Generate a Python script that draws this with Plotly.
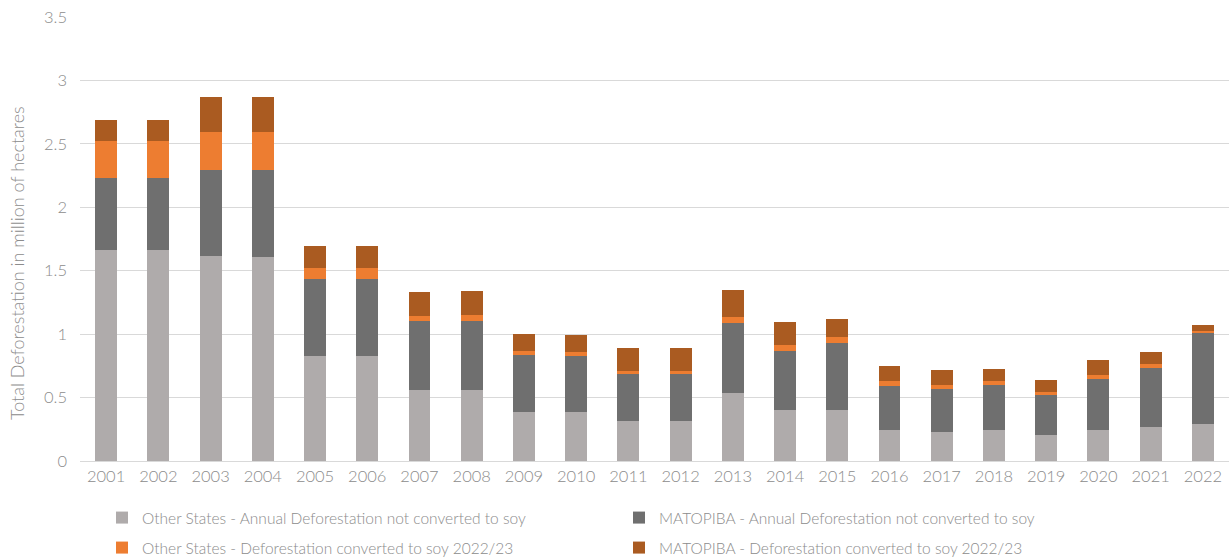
import plotly.graph_objects as go

years = [str(y) for y in range(2001, 2023)]

other_annual = [1.664, 1.664, 1.617, 1.609, 0.828, 0.828, 0.560, 0.560, 0.386, 0.386, 0.315,
                0.315, 0.536, 0.402, 0.402, 0.244, 0.229, 0.244, 0.205, 0.244, 0.268, 0.292]
matopiba_annual = [0.568, 0.568, 0.678, 0.686, 0.607, 0.607, 0.544, 0.544, 0.450, 0.442, 0.371,
                   0.371, 0.552, 0.465, 0.529, 0.347, 0.339, 0.355, 0.315, 0.403, 0.465, 0.717]
other_soy = [0.292, 0.292, 0.300, 0.300, 0.087, 0.087, 0.039, 0.047, 0.031, 0.032, 0.024,
             0.024, 0.048, 0.048, 0.047, 0.040, 0.031, 0.032, 0.024, 0.031, 0.032, 0.016]
matopiba_soy = [0.165, 0.165, 0.276, 0.276, 0.174, 0.174, 0.190, 0.190, 0.133, 0.134, 0.181,
                0.181, 0.213, 0.181, 0.142, 0.118, 0.118, 0.094, 0.094, 0.118, 0.095, 0.047]

names = [
    "Other States - Annual Deforestation not converted to soy",
    "MATOPIBA - Annual Deforestation not converted to soy",
    "Other States - Deforestation converted to soy 2022/23",
    "MATOPIBA - Deforestation converted to soy 2022/23",
]
colors = ["#AFABAB", "#6F6F6F", "#ED7D31", "#AA5B21"]
series = [other_annual, matopiba_annual, other_soy, matopiba_soy]
legend_ids = ["legend", "legend", "legend2", "legend2"]

FONT = "Lato, 'Noto Sans', sans-serif"
TXT = "#8C8C8C"

fig = go.Figure()
for n, c, s, lg in zip(names, colors, series, legend_ids):
    fig.add_trace(go.Bar(x=years, y=s, name=n, legend=lg,
                         marker=dict(color=c, line=dict(width=0))))

PW = 1149.0  # plot width in px
def px_x(p):
    return (p - 80) / PW

PH = 444.0  # plot height in px (17..461)
def px_y(p):
    return (461 - p) / PH

leg_common = dict(
    orientation="h", xanchor="left", yanchor="middle",
    entrywidth=472, entrywidthmode="pixels",
    font=dict(size=15.5, color=TXT, family=FONT, weight=300),
    traceorder="normal", bgcolor="rgba(0,0,0,0)",
)

fig.update_layout(
    barmode="stack",
    bargap=0.58,
    width=1229, height=558,
    margin=dict(l=80, r=0, t=17, b=97, autoexpand=False),
    plot_bgcolor="white", paper_bgcolor="white",
    font=dict(family=FONT, color=TXT, size=16, weight=300),
    showlegend=True,
    legend=dict(x=px_x(102), y=px_y(518), **leg_common),
    legend2=dict(x=px_x(102), y=px_y(548), **leg_common),
    xaxis=dict(
        showgrid=False, showline=True, linecolor="#D9D9D9", linewidth=1,
        ticks="", tickfont=dict(size=16.5, color=TXT),
    ),
    yaxis=dict(
        range=[0, 3.5], dtick=0.5, showgrid=True, gridcolor="#D9D9D9", gridwidth=1,
        zeroline=False, showline=False, ticks="",
        tickfont=dict(size=16.5, color=TXT), ticklabelstandoff=12,
    ),
    annotations=[dict(
        text="Total Deforestation in million of hectares",
        textangle=-90, xref="paper", yref="paper",
        x=px_x(17), y=px_y(263), xanchor="center", yanchor="middle",
        showarrow=False, font=dict(size=18, color=TXT, family=FONT, weight=300),
    )],
)

fig.write_html("out.html")
